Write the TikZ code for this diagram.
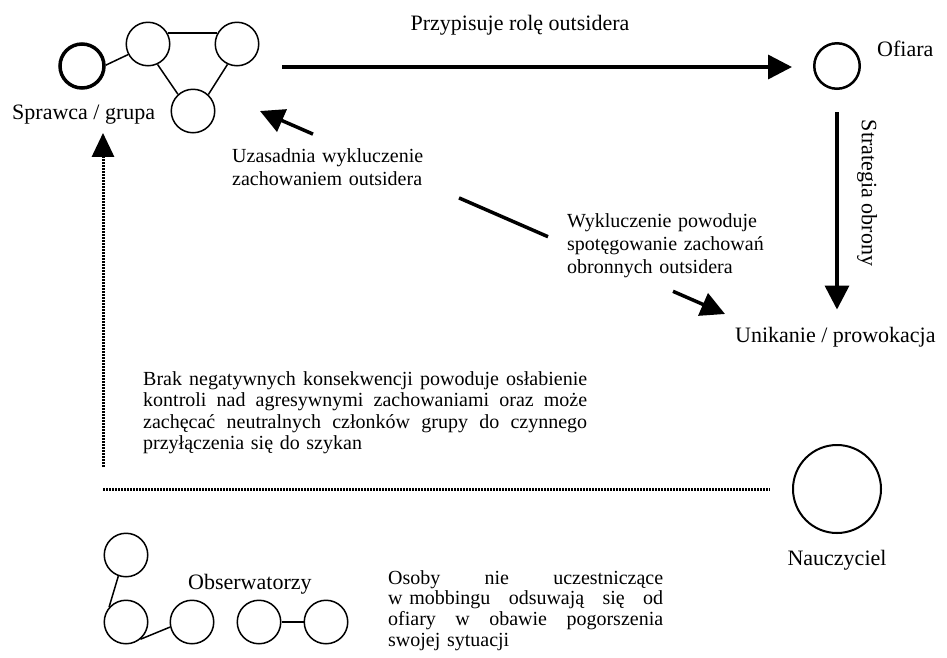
\documentclass[tikz,border=0pt]{standalone}
\usepackage{fontspec}
\setmainfont{Liberation Serif}
\usetikzlibrary{arrows.meta}
\newcommand{\jrow}[2]{\leavevmode\hbox to #1{#2}}
\begin{document}
\begin{tikzpicture}[x=1pt,y=-1pt,
  lab/.style={font=\fontsize{22}{26}\selectfont, inner sep=0pt},
  desc/.style={font=\fontsize{20}{23}\selectfont, inner sep=0pt, align=left},
  pers/.style={circle, draw, line width=1.5pt, inner sep=0pt, minimum size=43.5pt},
  link/.style={line width=1.5pt},
  arr/.style={line width=3.5pt, -{Triangle[length=24pt,width=24pt]}},
  dotl/.style={line width=3pt, dash pattern=on 2pt off 1pt},
]
\useasboundingbox (0,0) rectangle (947,657);

% perpetrator group
\node[pers, line width=3.5pt, minimum size=44pt] (g1) at (82,66) {};
\node[pers] (g2) at (148,44) {};
\node[pers] (g3) at (237,44) {};
\node[pers] (g4) at (193,111) {};
\draw[link] (g1.2) -- (g2.208);
\draw[link] (g2.29) -- (g3.151);
\draw[link] (g2.295) -- (g4.132);
\draw[link] (g3.245) -- (g4.47);
\node[lab, anchor=base west] (spr) at (12,119) {Sprawca / grupa};

% victim
\node[pers, line width=2.5pt, minimum size=45.5pt] (of) at (837,66) {};
\node[lab, anchor=base west] (ofl) at (877,56) {Ofiara};
\node[lab, anchor=base] (t1) at (520,30) {Przypisuje rolę outsidera};
\coordinate (a1) at (282,67);
\draw[arr, shorten >=21pt] (a1) -- (a1 -| of.west);

% defence strategy
\node[lab, anchor=base west] (un) at (735,342) {Unikanie / prowokacja};
\draw[arr, shorten <=22pt, shorten >=17pt] (of.south) -- (of.south |- un.north);
\node[lab, rotate=-90] (st) at (867,193) {Strategia obrony};

% justification / exclusion line
\coordinate (ut) at (260,111);
\coordinate (u1) at (313,134.1);
\coordinate (m1) at (459,197.9);
\coordinate (m2) at (548,236.7);
\coordinate (w1) at (673,291.3);
\coordinate (w2) at (725,314);
\draw[arr] (u1) -- (ut);
\draw[line width=3.5pt] (m1) -- (m2);
\draw[arr] (w1) -- (w2);
\node[desc, text width=200pt, anchor=base west] (uz) at (232,162)
  {Uzasadnia wykluczenie\\zachowaniem outsidera};
\node[desc, text width=220pt, anchor=base west] (wy) at (567,227)
  {Wykluczenie powoduje\\spotęgowanie zachowań\\obronnych outsidera};

% dotted feedback
\coordinate (d1) at (103,467);
\draw[dotl, -{Triangle[length=24pt,width=22pt]}, shorten >=9pt] (d1) -- (d1 |- spr.south);
\node[desc, text width=444pt, anchor=base west, font=\fontsize{20}{21.6}\selectfont] (br) at (143,385)
  {\jrow{444pt}{Brak \hfill negatywnych \hfill konsekwencji \hfill powoduje \hfill osłabienie}\\
   \jrow{444pt}{kontroli \hfill nad \hfill agresywnymi \hfill zachowaniami \hfill oraz \hfill może}\\
   \jrow{444pt}{zachęcać \hfill neutralnych \hfill członków \hfill grupy \hfill do \hfill czynnego}\\
   przyłączenia się do szykan};

% teacher
\node[pers, line width=2pt, minimum size=88pt] (na) at (837,489) {};
\node[lab, anchor=base] (nal) at (837,565) {Nauczyciel};
\coordinate (d2) at (103,489);
\draw[dotl, shorten >=22pt] (d2) -- (d2 -| na.west);

% observers
\node[pers] (o1) at (126,555) {};
\node[pers] (o2) at (126,622) {};
\node[pers] (o3) at (192,622) {};
\node[pers] (o4) at (259,622) {};
\node[pers] (o5) at (326,622) {};
\draw[link] (o1.250) -- (o2.139);
\draw[link] (o2.310) -- (o3.193);
\draw[link] (o4.east) -- (o5.west);
\node[lab, anchor=base west] (obs) at (188,589) {Obserwatorzy};
\node[desc, text width=275pt, anchor=base west, font=\fontsize{20}{20.8}\selectfont] (os) at (388,584)
  {\jrow{275pt}{Osoby \hfill nie \hfill uczestniczące}\\
   \jrow{275pt}{\mbox{w mobbingu} \hfill odsuwają \hfill się \hfill od}\\
   \jrow{275pt}{ofiary \hfill w \hfill obawie \hfill pogorszenia}\\
   swojej sytuacji};
\end{tikzpicture}
\end{document}
